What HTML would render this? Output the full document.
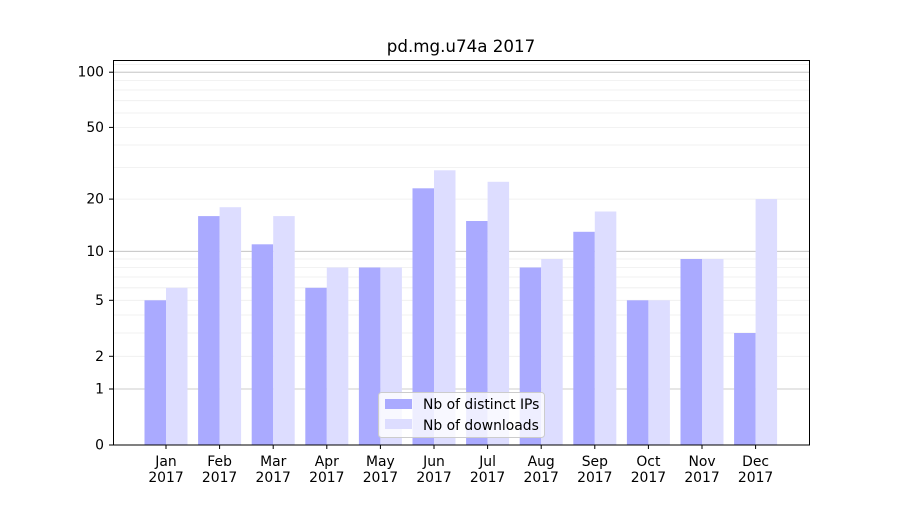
<!DOCTYPE html>
<html><head><meta charset="utf-8"><style>body{margin:0;background:#fff}</style></head>
<body>
<svg width="900" height="500" xmlns="http://www.w3.org/2000/svg" font-family="DejaVu Sans, Liberation Sans, sans-serif">
<rect width="900" height="500" fill="#fff"/>
<g stroke="#eee" stroke-width="0.8">
<line x1="113" x2="810" y1="356.3" y2="356.3"/>
<line x1="113" x2="810" y1="333" y2="333"/>
<line x1="113" x2="810" y1="315" y2="315"/>
<line x1="113" x2="810" y1="300.3" y2="300.3"/>
<line x1="113" x2="810" y1="287.8" y2="287.8"/>
<line x1="113" x2="810" y1="277" y2="277"/>
<line x1="113" x2="810" y1="267.5" y2="267.5"/>
<line x1="113" x2="810" y1="259" y2="259"/>
<line x1="113" x2="810" y1="199.1" y2="199.1"/>
<line x1="113" x2="810" y1="167.6" y2="167.6"/>
<line x1="113" x2="810" y1="145" y2="145"/>
<line x1="113" x2="810" y1="127.4" y2="127.4"/>
<line x1="113" x2="810" y1="113" y2="113"/>
<line x1="113" x2="810" y1="100.7" y2="100.7"/>
<line x1="113" x2="810" y1="90" y2="90"/>
<line x1="113" x2="810" y1="80.6" y2="80.6"/>
<line x1="113" x2="810" y1="64.6" y2="64.6"/>
</g>
<g stroke="#bbb" stroke-width="0.8">
<line x1="113" x2="810" y1="389" y2="389"/>
<line x1="113" x2="810" y1="251.3" y2="251.3"/>
<line x1="113" x2="810" y1="72.2" y2="72.2"/>
</g>
<g fill="#aaaaff">
<rect x="144.5" y="300.3" width="21.5" height="144.7"/>
<rect x="198.1" y="216.1" width="21.5" height="228.9"/>
<rect x="251.7" y="244.3" width="21.5" height="200.7"/>
<rect x="305.3" y="287.8" width="21.5" height="157.2"/>
<rect x="358.9" y="267.5" width="21.5" height="177.5"/>
<rect x="412.5" y="188.3" width="21.5" height="256.7"/>
<rect x="466.1" y="221" width="21.5" height="224"/>
<rect x="519.7" y="267.5" width="21.5" height="177.5"/>
<rect x="573.3" y="231.8" width="21.5" height="213.2"/>
<rect x="626.9" y="300.3" width="21.5" height="144.7"/>
<rect x="680.5" y="259" width="21.5" height="186"/>
<rect x="734.1" y="333" width="21.5" height="112"/>
</g>
<g fill="#ddddff">
<rect x="166" y="287.8" width="21.5" height="157.2"/>
<rect x="219.6" y="207.2" width="21.5" height="237.8"/>
<rect x="273.2" y="216.1" width="21.5" height="228.9"/>
<rect x="326.8" y="267.5" width="21.5" height="177.5"/>
<rect x="380.4" y="267.5" width="21.5" height="177.5"/>
<rect x="434" y="170.3" width="21.5" height="274.7"/>
<rect x="487.6" y="181.8" width="21.5" height="263.2"/>
<rect x="541.2" y="259" width="21.5" height="186"/>
<rect x="594.8" y="211.5" width="21.5" height="233.5"/>
<rect x="648.4" y="300.3" width="21.5" height="144.7"/>
<rect x="702" y="259" width="21.5" height="186"/>
<rect x="755.6" y="199.1" width="21.5" height="245.9"/>
</g>
<rect x="113.5" y="60.5" width="696" height="384.5" fill="none" stroke="#000" stroke-width="1"/>
<g stroke="#000">
<line x1="166" x2="166" y1="445" y2="449"/><line x1="219.6" x2="219.6" y1="445" y2="449"/>
<line x1="273.2" x2="273.2" y1="445" y2="449"/><line x1="326.8" x2="326.8" y1="445" y2="449"/>
<line x1="380.4" x2="380.4" y1="445" y2="449"/><line x1="434" x2="434" y1="445" y2="449"/>
<line x1="487.6" x2="487.6" y1="445" y2="449"/><line x1="541.2" x2="541.2" y1="445" y2="449"/>
<line x1="594.8" x2="594.8" y1="445" y2="449"/><line x1="648.4" x2="648.4" y1="445" y2="449"/>
<line x1="702" x2="702" y1="445" y2="449"/><line x1="755.6" x2="755.6" y1="445" y2="449"/>
<line x1="109" x2="113" y1="445" y2="445"/><line x1="109" x2="113" y1="389" y2="389"/>
<line x1="109" x2="113" y1="356.3" y2="356.3"/><line x1="109" x2="113" y1="300.3" y2="300.3"/>
<line x1="109" x2="113" y1="251.3" y2="251.3"/><line x1="109" x2="113" y1="199.1" y2="199.1"/>
<line x1="109" x2="113" y1="127.4" y2="127.4"/><line x1="109" x2="113" y1="72.2" y2="72.2"/>
</g>
<g font-size="13.9" text-anchor="middle">
<text x="166" y="466">Jan</text><text x="166" y="482">2017</text>
<text x="219.6" y="466">Feb</text><text x="219.6" y="482">2017</text>
<text x="273.2" y="466">Mar</text><text x="273.2" y="482">2017</text>
<text x="326.8" y="466">Apr</text><text x="326.8" y="482">2017</text>
<text x="380.4" y="466">May</text><text x="380.4" y="482">2017</text>
<text x="434" y="466">Jun</text><text x="434" y="482">2017</text>
<text x="487.6" y="466">Jul</text><text x="487.6" y="482">2017</text>
<text x="541.2" y="466">Aug</text><text x="541.2" y="482">2017</text>
<text x="594.8" y="466">Sep</text><text x="594.8" y="482">2017</text>
<text x="648.4" y="466">Oct</text><text x="648.4" y="482">2017</text>
<text x="702" y="466">Nov</text><text x="702" y="482">2017</text>
<text x="755.6" y="466">Dec</text><text x="755.6" y="482">2017</text>
</g>
<g font-size="13.9" text-anchor="end">
<text x="104" y="449.5">0</text><text x="104" y="393.5">1</text>
<text x="104" y="360.8">2</text><text x="104" y="304.8">5</text>
<text x="104" y="255.8">10</text><text x="104" y="203.6">20</text>
<text x="104" y="131.9">50</text><text x="104" y="76.7">100</text>
</g>
<text x="461" y="52" font-size="16.7" text-anchor="middle">pd.mg.u74a 2017</text>
<rect x="378.5" y="392.5" width="166" height="45" rx="3" fill="#fff" fill-opacity="0.8" stroke="#ccc"/>
<rect x="385" y="399" width="27" height="10" fill="#aaaaff"/>
<text x="423" y="409" font-size="13.9">Nb of distinct IPs</text>
<rect x="385" y="419" width="27" height="10" fill="#ddddff"/>
<text x="423" y="430" font-size="13.9">Nb of downloads</text>
</svg>
</body></html>
